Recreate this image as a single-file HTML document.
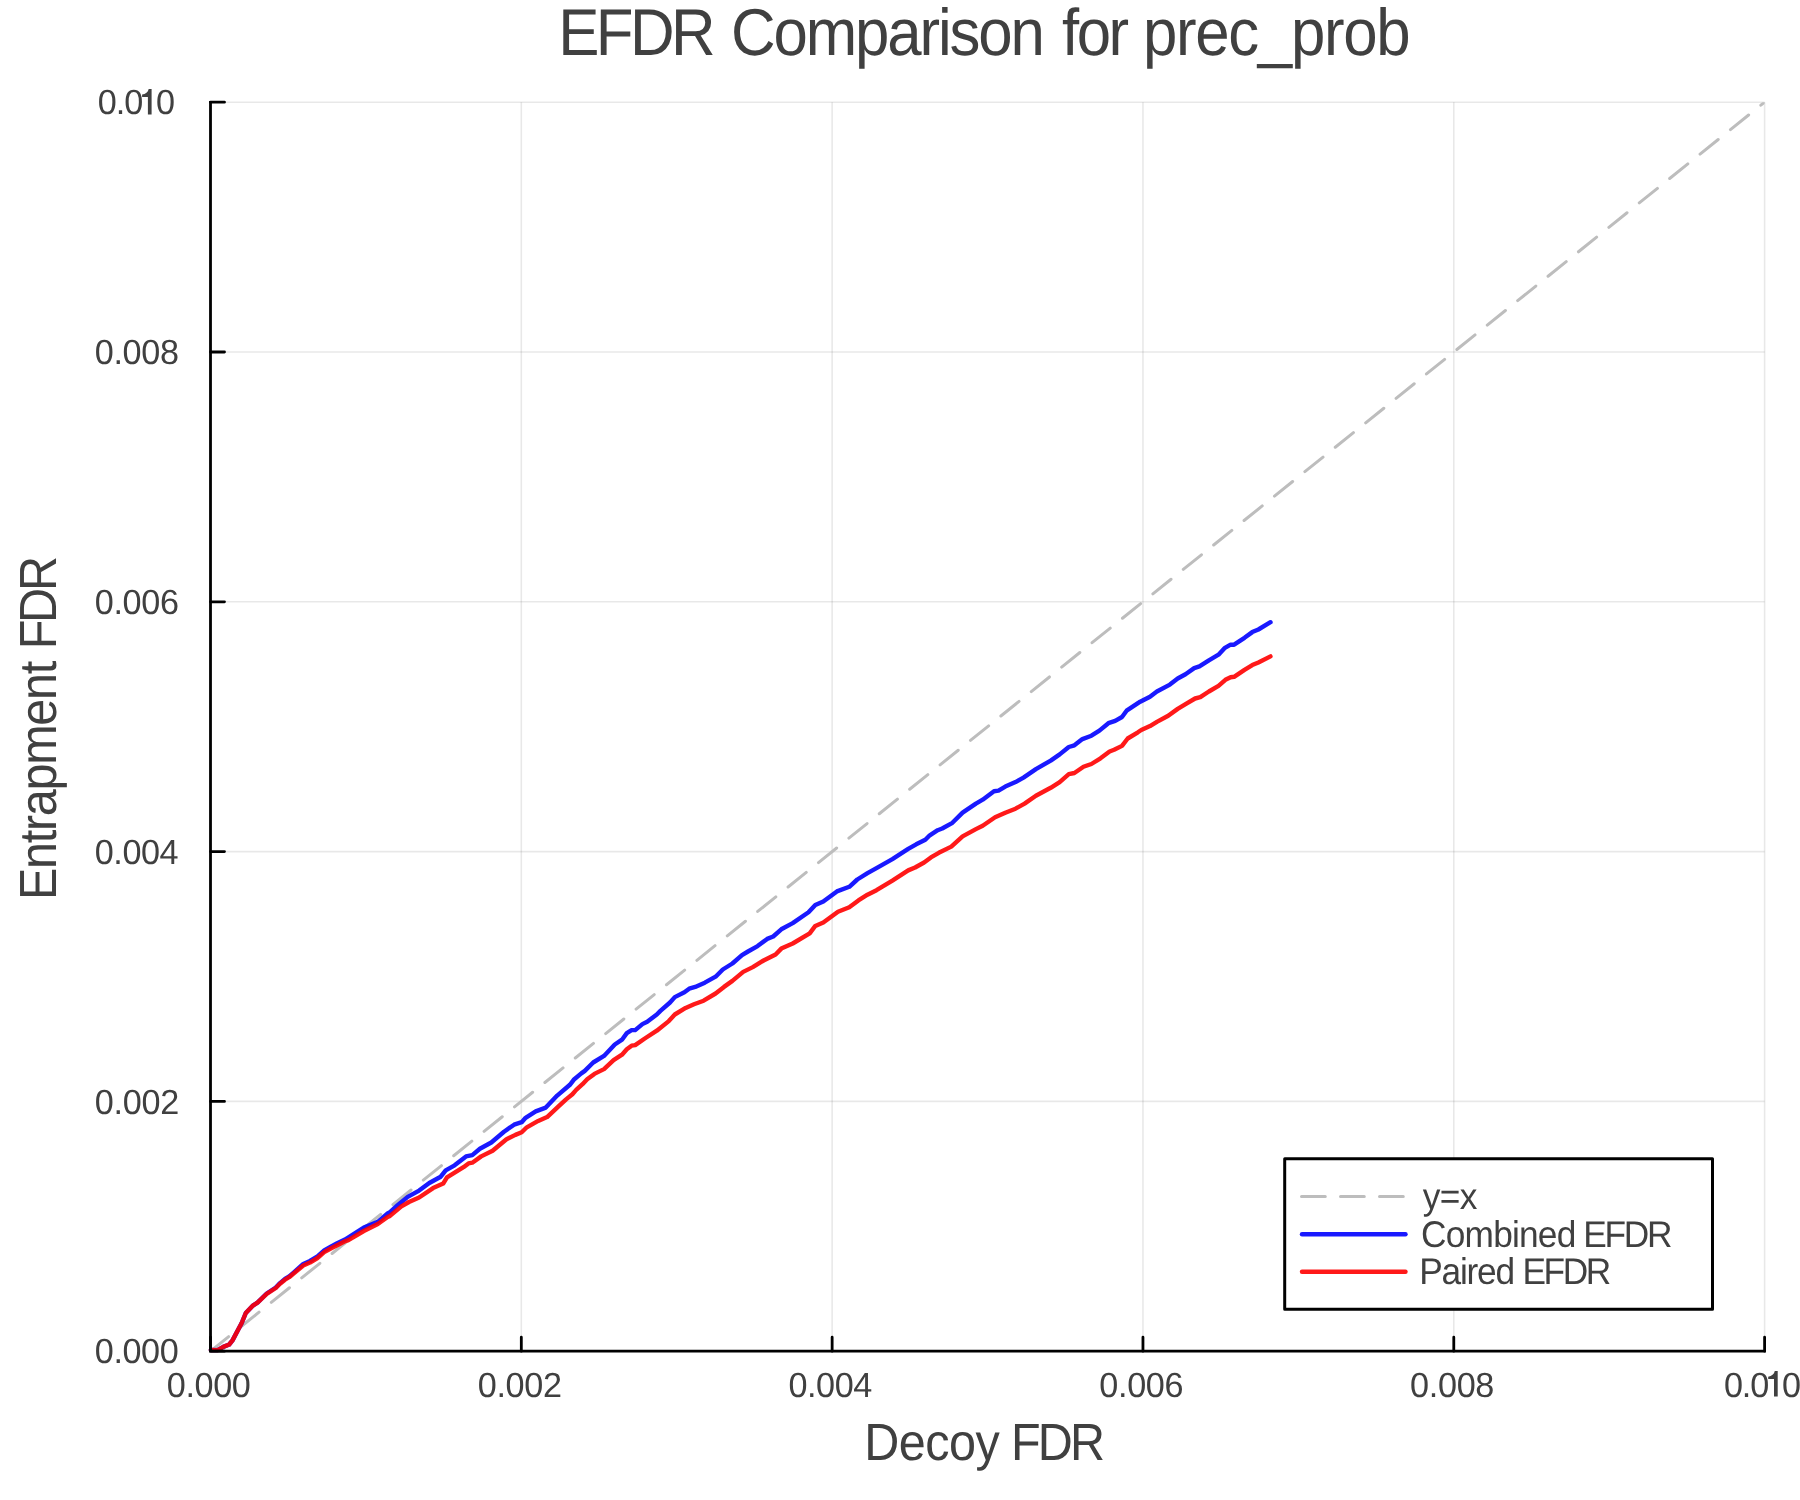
<!DOCTYPE html>
<html><head><meta charset="utf-8"><style>
html,body{margin:0;padding:0;background:#fff;}
svg{display:block;will-change:transform;}
text{font-family:"Liberation Sans",sans-serif;fill:#404040;white-space:pre;text-rendering:geometricPrecision;}
</style></head><body>
<svg width="1800" height="1500" viewBox="0 0 1800 1500">
<rect width="1800" height="1500" fill="#fff"/>
<g stroke="#000" stroke-opacity="0.09" stroke-width="1.6"><line x1="210.50" y1="102.2" x2="210.50" y2="1351.2"/><line x1="210.5" y1="1351.20" x2="1764.6" y2="1351.20"/><line x1="521.32" y1="102.2" x2="521.32" y2="1351.2"/><line x1="210.5" y1="1101.40" x2="1764.6" y2="1101.40"/><line x1="832.14" y1="102.2" x2="832.14" y2="1351.2"/><line x1="210.5" y1="851.60" x2="1764.6" y2="851.60"/><line x1="1142.96" y1="102.2" x2="1142.96" y2="1351.2"/><line x1="210.5" y1="601.80" x2="1764.6" y2="601.80"/><line x1="1453.78" y1="102.2" x2="1453.78" y2="1351.2"/><line x1="210.5" y1="352.00" x2="1764.6" y2="352.00"/><line x1="1764.60" y1="102.2" x2="1764.60" y2="1351.2"/><line x1="210.5" y1="102.20" x2="1764.6" y2="102.20"/></g>
<defs><clipPath id="pa"><rect x="210.5" y="102.2" width="1554.1" height="1249.0"/></clipPath></defs>
<path clip-path="url(#pa)" d="M210.5,1351.2 L1764.6,102.2" stroke="#bdbdbd" stroke-width="3" stroke-dasharray="23.3 15.7" stroke-linecap="round" fill="none"/>
<path d="M210.8,1350.0 L217.5,1350.1 L223.3,1346.9 L229.2,1344.5 L232.5,1340.4 L241.7,1323.0 L245.8,1313.0 L252.5,1305.9 L257.5,1302.6 L266.7,1293.5 L275.8,1287.5 L280.0,1283.1 L285.0,1278.9 L289.2,1276.3 L293.3,1272.8 L303.3,1264.0 L310.0,1261.0 L317.5,1256.4 L324.2,1250.5 L331.7,1246.1 L336.7,1243.5 L345.0,1239.5 L363.8,1227.5 L377.8,1221.9 L387.6,1213.5 L390.0,1212.1 L397.6,1205.2 L407.7,1196.9 L419.1,1190.6 L429.3,1183.0 L440.7,1176.7 L445.7,1170.3 L454.6,1165.3 L466.0,1156.4 L472.3,1155.1 L479.9,1148.8 L491.3,1142.5 L504.0,1131.7 L514.1,1124.7 L521.7,1122.2 L525.6,1117.8 L535.7,1111.4 L545.8,1107.6 L557.2,1095.6 L569.9,1084.8 L573.7,1079.8 L581.3,1073.4 L584.8,1070.9 L593.2,1062.5 L604.0,1055.9 L614.8,1044.5 L622.0,1039.7 L626.8,1033.1 L631.6,1030.1 L635.2,1030.1 L642.4,1024.1 L647.2,1021.7 L656.8,1014.5 L660.4,1010.9 L670.0,1002.5 L674.8,997.1 L684.4,992.3 L689.2,988.7 L695.2,986.9 L704.8,982.7 L715.6,976.7 L722.8,969.5 L732.4,963.5 L742.0,955.1 L748.0,951.5 L757.6,946.1 L767.2,938.9 L773.2,936.5 L781.3,929.3 L792.7,923.1 L808.5,912.3 L815.3,905.0 L823.3,901.5 L836.9,891.4 L849.3,886.8 L857.3,879.5 L867.5,873.2 L876.5,868.1 L892.4,859.1 L908.2,848.9 L916.2,844.3 L925.3,839.8 L929.8,835.3 L937.7,830.2 L942.2,828.5 L952.4,822.8 L962.6,812.6 L975.9,803.6 L982.7,799.7 L994.0,791.2 L998.5,790.6 L1005.3,786.6 L1015.5,782.1 L1023.5,777.6 L1035.9,769.1 L1050.7,760.6 L1059.7,754.4 L1068.8,747.0 L1074.4,745.3 L1082.4,739.1 L1091.4,735.7 L1099.4,730.6 L1108.4,723.2 L1115.2,720.9 L1122.0,717.0 L1126.6,710.7 L1136.8,703.9 L1140.2,701.7 L1150.0,696.7 L1156.9,691.5 L1169.9,684.6 L1177.7,678.5 L1185.5,674.2 L1194.2,668.1 L1199.4,666.4 L1208.9,660.3 L1218.5,654.7 L1224.5,648.2 L1230.6,644.7 L1234.1,644.7 L1244.5,637.8 L1252.3,632.1 L1258.4,629.5 L1270.5,622.2" stroke="#0000ff" stroke-opacity="0.9" stroke-width="4.4" stroke-linejoin="round" stroke-linecap="round" fill="none"/>
<path d="M210.8,1350.0 L217.5,1350.1 L223.3,1346.9 L229.2,1344.5 L232.5,1340.4 L241.7,1323.0 L245.8,1313.0 L252.5,1305.9 L257.5,1302.6 L266.7,1293.8 L275.8,1288.0 L280.0,1283.8 L285.0,1279.7 L289.2,1277.2 L293.3,1273.8 L303.3,1265.5 L310.0,1262.6 L317.5,1258.0 L324.2,1252.2 L331.7,1248.0 L336.7,1245.5 L345.0,1241.3 L348.4,1240.1 L363.8,1231.0 L377.8,1224.0 L387.6,1217.0 L390.0,1215.9 L401.4,1206.4 L409.0,1202.0 L419.1,1197.5 L433.1,1188.1 L443.2,1183.6 L447.0,1177.3 L463.5,1167.2 L468.5,1163.4 L472.3,1162.7 L481.2,1156.4 L492.6,1150.7 L506.5,1139.3 L515.4,1134.9 L521.7,1132.3 L526.8,1127.3 L538.2,1120.9 L547.1,1117.1 L558.5,1106.4 L566.1,1099.4 L572.4,1094.3 L576.2,1089.9 L582.5,1084.2 L587.2,1079.3 L594.4,1073.9 L604.0,1069.1 L613.6,1060.1 L622.0,1054.7 L626.8,1049.3 L631.6,1045.7 L635.2,1045.1 L644.8,1038.5 L656.8,1030.7 L668.8,1021.1 L674.8,1014.5 L685.6,1007.9 L694.0,1004.3 L703.6,1000.7 L715.6,993.5 L724.0,986.9 L732.4,980.9 L743.2,971.9 L752.8,967.1 L763.6,960.5 L769.6,957.5 L775.6,954.5 L781.3,948.6 L792.7,943.5 L809.7,933.3 L815.3,925.9 L823.3,922.5 L838.0,911.7 L849.3,907.2 L858.4,900.4 L867.5,894.7 L876.5,890.2 L892.4,880.6 L908.2,870.4 L915.1,867.5 L924.1,862.5 L930.9,857.4 L938.8,852.8 L951.3,846.6 L962.6,836.4 L975.9,829.1 L982.7,825.7 L995.1,817.2 L1005.3,812.7 L1015.5,808.7 L1024.6,803.6 L1035.9,795.7 L1050.7,787.8 L1059.7,782.1 L1068.8,774.2 L1074.4,773.0 L1083.5,766.8 L1091.4,764.0 L1100.5,758.3 L1109.6,751.5 L1114.1,749.8 L1122.0,745.9 L1127.7,738.5 L1137.9,732.3 L1141.3,730.0 L1150.0,726.1 L1156.9,721.9 L1168.2,715.8 L1177.7,708.9 L1186.4,703.6 L1195.1,698.5 L1200.3,697.2 L1208.9,691.5 L1218.5,685.9 L1225.4,679.8 L1230.6,677.2 L1234.1,676.8 L1244.5,669.8 L1252.3,665.1 L1258.4,662.5 L1270.5,656.4" stroke="#ff0000" stroke-opacity="0.9" stroke-width="4.4" stroke-linejoin="round" stroke-linecap="round" fill="none"/>
<path d="M210.5,101.0 V1351.2 H1765.8" stroke="#000" stroke-width="2.8" fill="none"/>
<path d="M210.50,1351.2 V1337.20 M210.5,1351.20 H224.50 M521.32,1351.2 V1337.20 M210.5,1101.40 H224.50 M832.14,1351.2 V1337.20 M210.5,851.60 H224.50 M1142.96,1351.2 V1337.20 M210.5,601.80 H224.50 M1453.78,1351.2 V1337.20 M210.5,352.00 H224.50 M1764.60,1351.2 V1337.20 M210.5,102.20 H224.50" stroke="#000" stroke-width="2.8" fill="none" stroke-linecap="round"/>
<rect x="1284.7" y="1158.7" width="427.8" height="150.5" fill="#fff" stroke="#000" stroke-width="3" stroke-linejoin="round"/>
<path d="M1301.5,1196.5 H1406" stroke="#bdbdbd" stroke-width="3" stroke-dasharray="23.8 15.2" stroke-linecap="round" fill="none"/>
<path d="M1302,1234.2 H1405.5" stroke="#0000ff" stroke-opacity="0.9" stroke-width="4.4" stroke-linecap="round" fill="none"/>
<path d="M1302,1271.7 H1405.5" stroke="#ff0000" stroke-opacity="0.9" stroke-width="4.4" stroke-linecap="round" fill="none"/>
<text transform="translate(94.77,1363.40) scale(0.95,0.97)" font-size="36" letter-spacing="-0.418">0.000</text>
<text transform="translate(94.77,1113.60) scale(0.95,0.97)" font-size="36" letter-spacing="-0.293">0.002</text>
<text transform="translate(94.77,863.80) scale(0.95,0.97)" font-size="36" letter-spacing="-0.480">0.004</text>
<text transform="translate(94.77,614.00) scale(0.95,0.97)" font-size="36" letter-spacing="-0.355">0.006</text>
<text transform="translate(94.77,364.20) scale(0.95,0.97)" font-size="36" letter-spacing="-0.355">0.008</text>
<text transform="translate(97.78,114.40) scale(0.95,0.97)" font-size="36" letter-spacing="-1.125">0.0</text>
<path fill="#404040" d="M151.60,114.40 V89.00 H148.70 C148.00,92.20 145.60,94.20 142.10,94.60 V96.90 H147.90 V114.40 Z"/>
<text transform="translate(155.97,114.40) scale(0.95,0.97)" font-size="36" letter-spacing="0.000">0</text>
<text transform="translate(166.82,1396.50) scale(0.95,0.97)" font-size="36" letter-spacing="-0.418">0.000</text>
<text transform="translate(477.64,1396.50) scale(0.95,0.97)" font-size="36" letter-spacing="-0.293">0.002</text>
<text transform="translate(788.47,1396.50) scale(0.95,0.97)" font-size="36" letter-spacing="-0.480">0.004</text>
<text transform="translate(1099.29,1396.50) scale(0.95,0.97)" font-size="36" letter-spacing="-0.355">0.006</text>
<text transform="translate(1410.11,1396.50) scale(0.95,0.97)" font-size="36" letter-spacing="-0.355">0.008</text>
<text transform="translate(1723.88,1396.50) scale(0.95,0.97)" font-size="36" letter-spacing="-1.125">0.0</text>
<path fill="#404040" d="M1777.70,1396.50 V1371.10 H1774.80 C1774.10,1374.30 1771.70,1376.30 1768.20,1376.70 V1379.00 H1774.00 V1396.50 Z"/>
<text transform="translate(1782.08,1396.50) scale(0.95,0.97)" font-size="36" letter-spacing="0.000">0</text>
<text transform="translate(558.31,55.00) scale(0.95,1.018)" font-size="65" letter-spacing="-3.816">EFDR</text>
<text transform="translate(731.11,55.00) scale(0.95,1.018)" font-size="65" letter-spacing="-2.251">Comparison</text>
<text transform="translate(1062.05,55.00) scale(0.95,1.018)" font-size="65" letter-spacing="-2.664">for</text>
<text transform="translate(1142.96,55.00) scale(0.95,1.018)" font-size="65" letter-spacing="-1.377">prec_prob</text>
<text transform="translate(864.16,1459.80) scale(0.95,1.023)" font-size="51.07" letter-spacing="-0.510">Decoy</text>
<text transform="translate(1010.96,1459.80) scale(0.95,1.023)" font-size="51.07" letter-spacing="-2.914">FDR</text>
<text transform="translate(55.80,896.00) rotate(-90) scale(0.95,1.023) translate(-4.25,0)" font-size="51.07" letter-spacing="-1.355">Entrapment</text>
<text transform="translate(55.80,645.30) rotate(-90) scale(0.95,1.023) translate(-4.25,0)" font-size="51.07" letter-spacing="-3.336">FDR</text>
<text transform="translate(1422.66,1209.00) scale(0.95,1.0)" font-size="37.14" letter-spacing="-0.579">y=x</text>
<text transform="translate(1421.09,1246.80) scale(0.95,1.0)" font-size="37.14" letter-spacing="-0.842">Combined</text>
<text transform="translate(1583.25,1246.80) scale(0.95,1.0)" font-size="37.14" letter-spacing="-2.399">EFDR</text>
<text transform="translate(1419.15,1284.10) scale(0.95,1.0)" font-size="37.14" letter-spacing="-1.263">Paired</text>
<text transform="translate(1522.45,1284.10) scale(0.95,1.0)" font-size="37.14" letter-spacing="-2.539">EFDR</text>
</svg>
</body></html>
